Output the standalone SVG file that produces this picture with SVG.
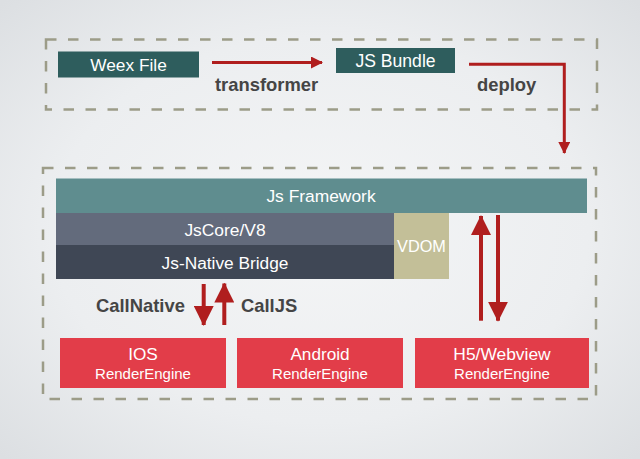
<svg xmlns="http://www.w3.org/2000/svg" width="640" height="459" viewBox="0 0 640 459">
<defs>
<radialGradient id="bg" cx="50%" cy="50%" r="70%">
<stop offset="0" stop-color="#f4f5f6"/>
<stop offset="0.6" stop-color="#eceef0"/>
<stop offset="1" stop-color="#dcdfe2"/>
</radialGradient>
<marker id="ah" viewBox="0 0 12 12" refX="11" refY="6" markerWidth="12" markerHeight="12" markerUnits="userSpaceOnUse" orient="auto">
<path d="M0,0 L12,6 L0,12 Z" fill="#b01e1e"/>
</marker>
<marker id="ahb" viewBox="0 0 20 20" refX="19" refY="10" markerWidth="20" markerHeight="20" markerUnits="userSpaceOnUse" orient="auto">
<path d="M0,0 L20,10 L0,20 Z" fill="#b01e1e"/>
</marker>
</defs>
<style>
.dash{fill:none;stroke:#9c9c88;stroke-width:2.5;stroke-dasharray:10.5 11.5}
.w{font-family:"Liberation Sans",Arial,sans-serif;fill:#ffffff;text-anchor:middle;dominant-baseline:central}
.lbl{font-family:"Liberation Sans",Arial,sans-serif;font-weight:bold;fill:#454545;font-size:18.4px;dominant-baseline:central}
.thin{fill:none;stroke:#b01e1e;stroke-width:3}
.thick{fill:none;stroke:#b01e1e;stroke-width:4}
.file{fill:#2e5d5d}
.re{fill:#e23d49}
</style>
<rect x="0" y="0" width="640" height="459" fill="url(#bg)"/>
<g id="groups">
<rect class="dash" x="46" y="39.5" width="551" height="70"/>
<rect class="dash" x="43" y="168" width="553" height="231"/>
</g>
<g id="weex-file">
<rect class="file" x="58" y="51.5" width="141" height="26"/>
<text class="w" x="128.5" y="64.5" font-size="17.3">Weex File</text>
</g>
<g id="js-bundle">
<rect class="file" x="336" y="48" width="119" height="25"/>
<text class="w" x="395.5" y="60.5" font-size="17.6">JS Bundle</text>
</g>
<g id="js-framework">
<rect x="56" y="178.5" width="531" height="34.5" fill="#5f8d8f"/>
<text class="w" x="321" y="195.5" font-size="17.4">Js Framework</text>
</g>
<g id="jscore">
<rect x="56" y="213" width="338" height="32" fill="#636b7c"/>
<text class="w" x="225" y="229.5" font-size="17.4">JsCore/V8</text>
</g>
<g id="bridge">
<rect x="56" y="245" width="338" height="34" fill="#3f4755"/>
<text class="w" x="225" y="262.5" font-size="17.3">Js-Native Bridge</text>
</g>
<g id="vdom">
<rect x="394" y="213" width="55" height="66" fill="#c3bf98"/>
<text class="w" x="421.5" y="246" font-size="16.3">VDOM</text>
</g>
<g id="ios">
<rect class="re" x="60" y="338" width="166" height="50"/>
<text class="w" x="143" y="354" font-size="17.2">IOS</text>
<text class="w" x="143" y="373" font-size="15">RenderEngine</text>
</g>
<g id="android">
<rect class="re" x="237" y="338" width="166" height="50"/>
<text class="w" x="320" y="354" font-size="17.2">Android</text>
<text class="w" x="320" y="373" font-size="15">RenderEngine</text>
</g>
<g id="h5">
<rect class="re" x="415" y="338" width="174" height="50"/>
<text class="w" x="502" y="354" font-size="17.4">H5/Webview</text>
<text class="w" x="502" y="373" font-size="15">RenderEngine</text>
</g>
<g id="connectors">
<path class="thin" d="M212,62.5 L322,62.5" marker-end="url(#ah)"/>
<path class="thin" d="M469,64.3 L564.3,64.3 L564.3,153" marker-end="url(#ah)"/>
<path class="thick" d="M203.7,284 L203.7,325" marker-end="url(#ahb)"/>
<path class="thick" d="M224.3,325 L224.3,283.5" marker-end="url(#ahb)"/>
<path class="thick" d="M481,320.7 L481,216" marker-end="url(#ahb)"/>
<path class="thick" d="M498,215 L498,320.7" marker-end="url(#ahb)"/>
</g>
<g id="labels">
<text class="lbl" x="215" y="84">transformer</text>
<text class="lbl" x="477" y="84">deploy</text>
<text class="lbl" x="96" y="305">CallNative</text>
<text class="lbl" x="241" y="305">CallJS</text>
</g>
</svg>
